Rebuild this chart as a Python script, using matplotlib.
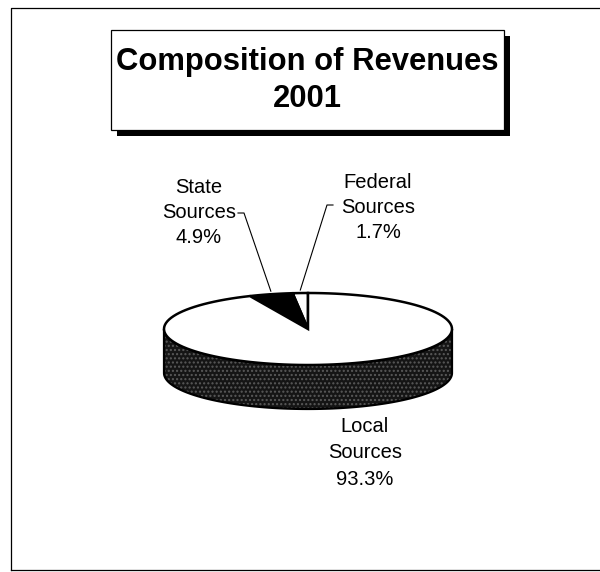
import numpy as np
import matplotlib
matplotlib.use("Agg")
import matplotlib.pyplot as plt
from matplotlib.patches import Polygon, Rectangle

# data
sources = ["Federal\nSources", "State\nSources", "Local\nSources"]
shares = [1.7, 4.9, 93.3]
top_colors = ["white", "black", "white"]
title_lines = ["Composition of Revenues", "2001"]

# layout (pixel coordinates, y grows downward)
CX, CY = 308, 329          # pie centre
RA, RB = 144, 36           # ellipse radii
DEPTH = 44                 # pie thickness
START = 90.0               # first slice starts at 12 o'clock, counter-clockwise
label_pos = [(378, 188), (199, 193), (365, 432)]   # first-line baselines
line_step = [25, 25, 26.5]
dash_start = [(333, 205), (238, 213), None]
dash_end = [(327, 205), (244, 213), None]

plt.rcParams['font.family'] = ['Liberation Sans', 'DejaVu Sans']

fig = plt.figure(figsize=(6.0, 5.72), dpi=100)
ax = fig.add_axes([0, 0, 1, 1])
ax.set_xlim(0, 600)
ax.set_ylim(572, 0)
ax.axis('off')


def ellipse_pts(t0, t1, dy=0.0, n=120):
    t = np.radians(np.linspace(t0, t1, n))
    return np.column_stack([CX + RA * np.cos(t), CY - RB * np.sin(t) + dy])


# outer frame (left, top, bottom edges of the scanned page box)
ax.plot([11, 11, 600], [570, 8, 8], color='black', lw=0.9)
ax.plot([11, 600], [570, 570], color='black', lw=0.9)

# title box with drop shadow
ax.add_patch(Rectangle((117, 36), 393, 100, facecolor='black', edgecolor='none'))
ax.add_patch(Rectangle((111, 30), 393, 100, facecolor='white', edgecolor='black', lw=0.9))
ax.text(307.5, 70, title_lines[0], ha='center', va='baseline', fontsize=22.3, fontweight='bold')
ax.text(307.5, 107, title_lines[1], ha='center', va='baseline', fontsize=22.3, fontweight='bold')

# slice angles
fracs = np.array(shares) / np.sum(shares)
bounds = START + 360.0 * np.concatenate([[0], np.cumsum(fracs)])

# side walls (front half only, 180..360 deg and wrapped)
for i in range(len(shares)):
    a0, a1 = bounds[i], bounds[i + 1]
    for lo, hi in [(180, 360), (540, 720)]:
        s0, s1 = max(a0, lo), min(a1, hi)
        if s1 <= s0:
            continue
        top = ellipse_pts(s0, s1)
        bot = ellipse_pts(s0, s1, dy=DEPTH)[::-1]
        pts = np.vstack([top, bot])
        ax.add_patch(Polygon(pts, closed=True, facecolor='#151515', edgecolor='none'))
        ax.add_patch(Polygon(pts, closed=True, facecolor='none', edgecolor='#5a5a5a',
                             hatch='....', lw=0))
        ax.add_patch(Polygon(pts, closed=True, facecolor='none', edgecolor='black', lw=1.6))

# top faces
for i in range(len(shares)):
    arc = ellipse_pts(bounds[i], bounds[i + 1])
    pts = np.vstack([[CX, CY], arc])
    ax.add_patch(Polygon(pts, closed=True, facecolor=top_colors[i],
                         edgecolor='black', lw=1.8, joinstyle='miter'))

# labels and leader lines
for i, name in enumerate(sources):
    lines = name.split("\n") + [f"{shares[i]:.1f}%"]
    x, y = label_pos[i]
    for k, s in enumerate(lines):
        ax.text(x, y + k * line_step[i], s, ha='center', va='baseline', fontsize=14.5)
    if dash_start[i] is not None:
        mid = np.radians((bounds[i] + bounds[i + 1]) / 2)
        px, py = CX + RA * np.cos(mid), CY - RB * np.sin(mid) - 3
        xs = [dash_start[i][0], dash_end[i][0], px]
        ys = [dash_start[i][1], dash_end[i][1], py]
        ax.plot(xs, ys, color='black', lw=0.8)

fig.savefig("out.png", dpi=100, facecolor='white')
